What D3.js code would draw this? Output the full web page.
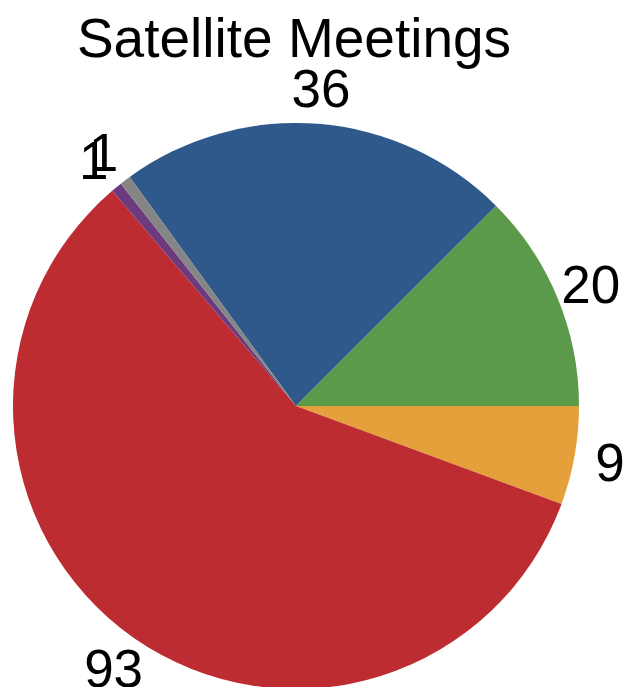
<!DOCTYPE html>
<html>
<head>
<meta charset="utf-8">
<script src="https://cdn.jsdelivr.net/npm/d3@7/dist/d3.min.js"></script>
<style>
  html, body { margin: 0; padding: 0; background: #fff; }
  svg { display: block; }
  text { font-family: "Liberation Sans", Arial, Helvetica, sans-serif; fill: #000; }
</style>
</head>
<body>
<script>
// Meeting counts per category, drawn clockwise from the blue slice
const categories = ["A", "B", "C", "D", "E", "F"];
const values = [36, 20, 9, 93, 1, 1];
const colors = ["#2e598a", "#5a9a4a", "#e5a03c", "#bc2c30", "#6c3b7e", "#858585"];
const title = "Satellite Meetings";

const width = 630, height = 687;
const cx = 296, cy = 406, radius = 283, labelRadius = 319;

const svg = d3.select("body").append("svg")
  .attr("width", width)
  .attr("height", height);

svg.append("text")
  .attr("x", 294)
  .attr("y", 57)
  .attr("text-anchor", "middle")
  .style("font-size", "55px")
  .text(title);

const pie = d3.pie()
  .sort(null)
  .value(d => d.value)
  .startAngle(-Math.PI / 5)
  .endAngle(-Math.PI / 5 + 2 * Math.PI);

const data = categories.map((c, i) => ({ category: c, value: values[i], color: colors[i] }));
const arcs = pie(data);

const arc = d3.arc().innerRadius(0).outerRadius(radius);
const labelArc = d3.arc().innerRadius(labelRadius).outerRadius(labelRadius);

const g = svg.append("g").attr("transform", `translate(${cx},${cy})`);

g.selectAll("path.slice")
  .data(arcs)
  .join("path")
  .attr("class", "slice")
  .attr("d", arc)
  .attr("fill", d => d.data.color);

g.selectAll("text.value")
  .data(arcs)
  .join("text")
  .attr("class", "value")
  .attr("transform", d => `translate(${labelArc.centroid(d)})`)
  .attr("text-anchor", "middle")
  .attr("dy", "0.36em")
  .style("font-size", "53px")
  .text(d => d.data.value);
</script>
</body>
</html>
